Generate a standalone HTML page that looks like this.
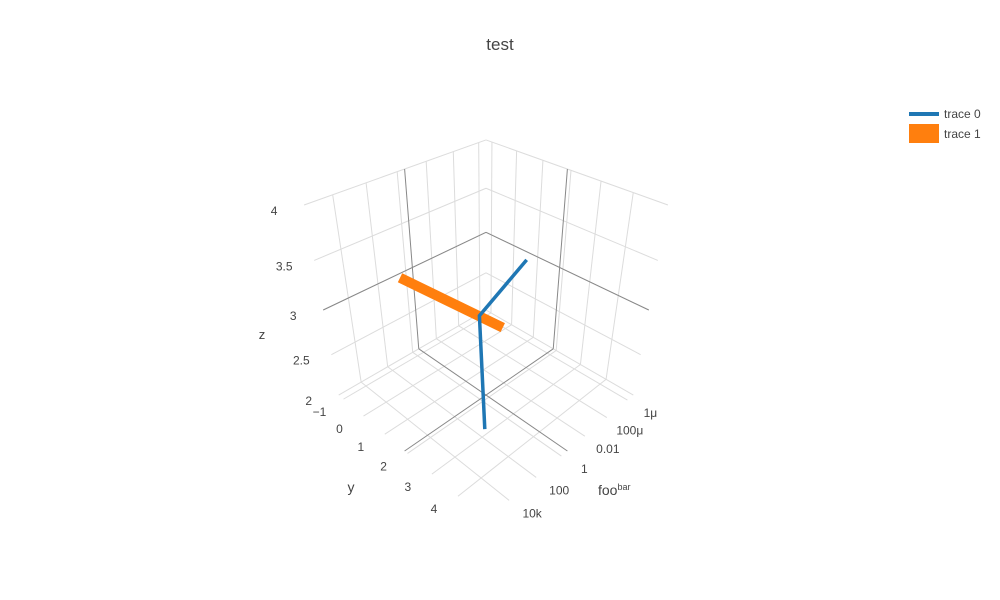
<!DOCTYPE html>
<html><head><meta charset="utf-8"><style>
html,body{margin:0;padding:0;background:#fff;}
svg{display:block;font-family:"Liberation Sans",sans-serif;}
</style></head><body>
<svg id="chart" width="1000" height="600" viewBox="0 0 1000 600">
<rect width="1000" height="600" fill="#fff"/>
<text x="500" y="50" text-anchor="middle" font-size="17" fill="#444">test</text>
<g id="grid"></g>
<g id="ticks" font-size="12" fill="#444"></g>
<g id="traces"></g>
<text x="262" y="339" font-size="13" fill="#444" text-anchor="middle">z</text>
<text x="351" y="492" font-size="14" fill="#444" text-anchor="middle">y</text>
<text x="598" y="495" font-size="14" fill="#444">foo<tspan font-size="9" dy="-5">bar</tspan></text>
<g>
<g>
<rect x="909" y="112" width="30" height="4" fill="#1f77b4"/>
<text x="944" y="118" font-size="12" fill="#444">trace 0</text>
</g>
<g>
<rect x="909" y="124" width="30" height="19" fill="#ff7f0e"/>
<text x="944" y="138" font-size="12" fill="#444">trace 1</text>
</g>
</g>
</svg>
<script>
// axis ranges
const xLogRange = [-6.6, 5.6];
const yRange = [-1.25, 5.0];
const zRange = [2, 4];
// tick values and labels
const xTickLogs = [-6, -4, -2, 0, 2, 4];
const xTickLabels = ["1μ", "100μ", "0.01", "1", "100", "10k"];
const yTicks = [-1, 0, 1, 2, 3, 4];
const yTickLabels = ["−1", "0", "1", "2", "3", "4"];
const zTicks = [2, 2.5, 3, 3.5, 4];
const zTickLabels = ["2", "2.5", "3", "3.5", "4"];
// series data
const trace0X = [1.3e-6, 1.3, 30];
const trace0Y = [0.875, 1.94, 2.84];
const trace0Z = [3, 3, 2];
const trace1X = [5.2, 1.0];
const trace1Y = [-1.06, 2.75];
const trace1Z = [3, 3];

const NS = "http://www.w3.org/2000/svg";
const A = 3.17, F = 632, CX = 486, CY = 310;
const s2 = Math.SQRT2, s3 = Math.sqrt(3), s6 = Math.sqrt(6);
function proj(px, py, pz) {
  const vx = px - A, vy = py - A, vz = pz - A;
  const d = -(vx + vy + vz) / s3;
  const xs = (-vx + vy) / s2;
  const ys = (-vx - vy + 2 * vz) / s6;
  return [CX + F * xs / d, CY - F * ys / d];
}
function bx(x) { return -1 + 2 * (Math.log10(x) - xLogRange[0]) / (xLogRange[1] - xLogRange[0]); }
function bxLog(l) { return -1 + 2 * (l - xLogRange[0]) / (xLogRange[1] - xLogRange[0]); }
function by(y) { return -1 + 2 * (y - yRange[0]) / (yRange[1] - yRange[0]); }
function bz(z) { return -1 + 2 * (z - zRange[0]) / (zRange[1] - zRange[0]); }

const grid = document.getElementById('grid');
function line(p, q, color, w, name) {
  const a = proj(...p), b = proj(...q);
  const l = document.createElementNS(NS, 'line');
  l.setAttribute('x1', a[0]); l.setAttribute('y1', a[1]);
  l.setAttribute('x2', b[0]); l.setAttribute('y2', b[1]);
  l.setAttribute('stroke', color); l.setAttribute('stroke-width', w);
  
  
  grid.appendChild(l);
}
const GC = '#dcdcdc';
xTickLogs.forEach(v => {
  const p = bxLog(v);
  line([p, -1, -1], [p, -1, 1], GC, 1, 'x-gridline-wall');
  line([p, -1, -1], [p, 1, -1], GC, 1, 'x-gridline-floor');
});
yTicks.forEach(v => {
  const p = by(v);
  line([-1, p, -1], [-1, p, 1], GC, 1, 'y-gridline-wall');
  line([-1, p, -1], [1, p, -1], GC, 1, 'y-gridline-floor');
});
zTicks.forEach(v => {
  const p = bz(v);
  line([-1, -1, p], [1, -1, p], GC, 1, 'z-gridline-left-wall');
  line([-1, -1, p], [-1, 1, p], GC, 1, 'z-gridline-right-wall');
});
const DC = '#888';
line([0, -1, -1], [0, -1, 1], DC, 1, 'x-midline-wall');
line([-1, -1, 0], [1, -1, 0], DC, 1, 'z-midline-left-wall');
line([-1, 0, -1], [-1, 0, 1], DC, 1, 'y-midline-wall');
line([-1, -1, 0], [-1, 1, 0], DC, 1, 'z-midline-right-wall');
line([0, -1, -1], [0, 1, -1], DC, 1, 'x-midline-floor');
line([-1, 0, -1], [1, 0, -1], DC, 1, 'y-midline-floor');

const ticks = document.getElementById('ticks');
function label(txt, pt, dx, dy, anchor, name) {
  const t = document.createElementNS(NS, 'text');
  t.setAttribute('x', pt[0] + dx); t.setAttribute('y', pt[1] + dy);
  t.setAttribute('text-anchor', anchor);
  t.textContent = txt;
  
  
  ticks.appendChild(t);
}
xTickLogs.forEach((v, i) => label(xTickLabels[i], proj(bxLog(v), 1, -1), 23, 17, 'middle', 'x-tick-label'));
yTicks.forEach((v, i) => label(yTickLabels[i], proj(1, by(v), -1), -24, 17, 'middle', 'y-tick-label'));
zTicks.forEach((v, i) => label(zTickLabels[i], proj(1, -1, bz(v)), -30 + 6 * (1 - bz(v)) / 2 * 0, 10, 'middle', 'z-tick-label'));

const traces = document.getElementById('traces');
function trace(xs, ys, zs, color, w, name) {
  const pts = xs.map((x, i) => proj(bx(x), by(ys[i]), bz(zs[i])).join(',')).join(' ');
  const pl = document.createElementNS(NS, 'polyline');
  pl.setAttribute('points', pts);
  pl.setAttribute('fill', 'none');
  pl.setAttribute('stroke', color);
  pl.setAttribute('stroke-width', w);
  
  
  traces.appendChild(pl);
}
trace(trace1X, trace1Y, trace1Z, '#ff7f0e', 10, 'trace-1-line');
trace(trace0X, trace0Y, trace0Z, '#1f77b4', 3.5, 'trace-0-line');
</script>
</body></html>
